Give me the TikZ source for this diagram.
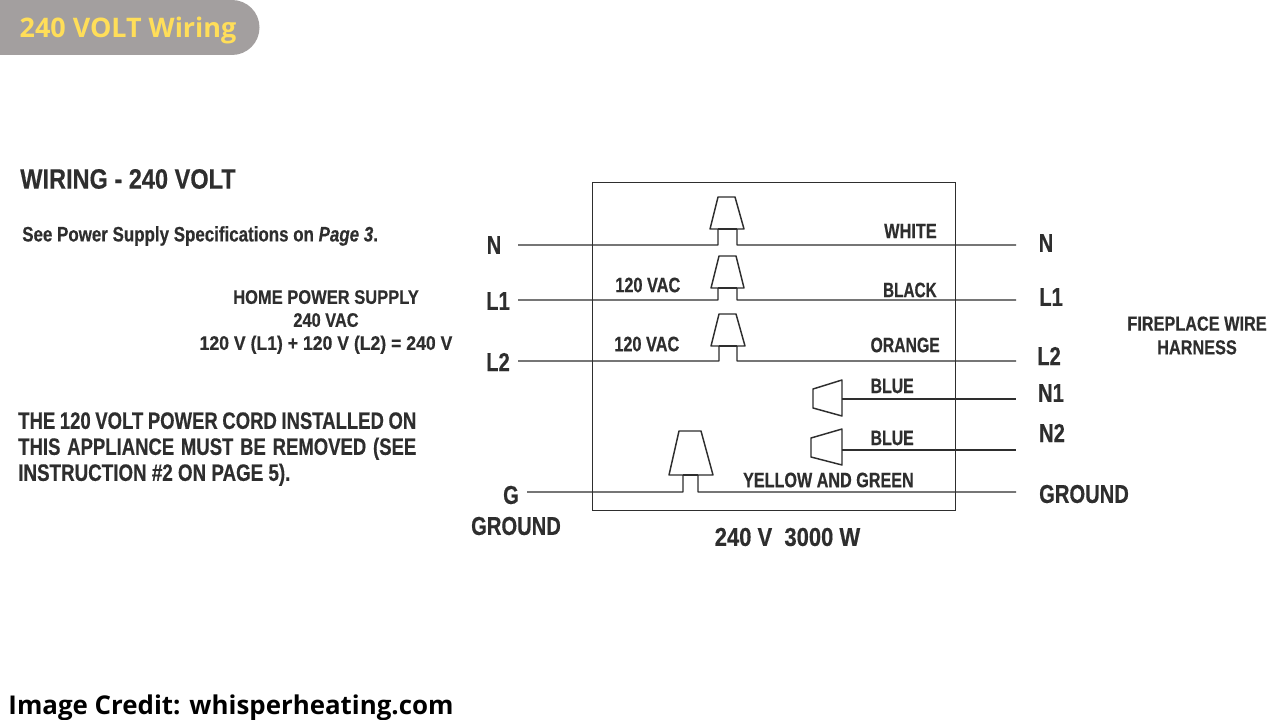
\documentclass[tikz,border=0pt]{standalone}
\usepackage{fontspec}
\setmainfont{Liberation Sans}
\newfontfamily\narrowfont[FakeStretch=0.78,FakeBold=0.4]{Liberation Sans Bold}
\newfontfamily\narrowital[FakeStretch=0.78,FakeBold=0.4]{Liberation Sans Bold Italic}
\newfontfamily\headfont{Open Sans Bold}
\newcommand{\xfit}[2]{\scalebox{#1}[1]{#2}}
\definecolor{ink}{HTML}{2E2E2E}
\definecolor{badge}{HTML}{A39F9F}
\definecolor{gold}{HTML}{FFDE59}
\tikzset{
  x=0.75pt,y=-0.75pt,
  wire/.style={draw=ink,line width=1.1pt,line join=round},
  lab/.style={text=ink,inner sep=0pt,font=\narrowfont\fontsize{15.7}{17}\selectfont,anchor=center,align=center},
  big/.style={lab,font=\narrowfont\fontsize{19.4}{20}\selectfont},
}
\begin{document}
\begin{tikzpicture}
\useasboundingbox (0,0) rectangle (1280,720);
\fill[white] (0,0) rectangle (1280,720);
% badge
\fill[badge] (0,0) -- (232,0) arc[start angle=90,end angle=-90,radius=27.5*0.75pt] -- (0,55) -- cycle;
\node[inner sep=0pt,text=gold,font=\headfont\fontsize{20.2}{22}\selectfont] (title) at (128,31) {240 VOLT Wiring};
\node[inner sep=0pt,text=black,font=\headfont\fontsize{19.4}{22}\selectfont] (credit) at (231,708) {Image Credit: whisperheating.com};
% left text
\node[big,anchor=west,font=\narrowfont\fontsize{21}{22}\selectfont] (head) at (20,179) {\xfit{1.078}{WIRING - 240 VOLT}};
\node[lab,anchor=west] (see) at (22,236) {\xfit{1.037}{See Power Supply Specifications on {\narrowital Page 3}.}};
\node[lab,font=\narrowfont\fontsize{14.7}{17.25}\selectfont] (home) at (326,322) {\xfit{1.08}{HOME POWER SUPPLY}\\\xfit{1.07}{240 VAC}\\\xfit{1.153}{120 V (L1) + 120 V (L2) = 240 V}};
\node[lab,anchor=north west,align=left,font=\narrowfont\fontsize{17.8}{19.5}\selectfont] (warn) at (18,412) {\makebox[298.5pt][s]{THE 120 VOLT POWER CORD INSTALLED ON}\\\makebox[298.5pt][s]{THIS APPLIANCE MUST BE REMOVED (SEE}\\\xfit{1.015}{INSTRUCTION \#2 ON PAGE 5).}};
\node[lab,font=\narrowfont\fontsize{15.2}{17.8}\selectfont] (harness) at (1197,335.5) {\xfit{1.03}{FIREPLACE WIRE}\\\xfit{1.03}{HARNESS}};
% terminal labels
\node[big] (nL) at (494,245) {N};
\node[big] (l1L) at (498,301) {L1};
\node[big] (l2L) at (498,362) {L2};
\node[big] (gL) at (511,495) {G};
\node[big] (gndL) at (516,526) {GROUND};
\node[big] (nR) at (1046,243) {N};
\node[big] (l1R) at (1051,297) {L1};
\node[big] (l2R) at (1049,356) {L2};
\node[big] (n1R) at (1051,393) {N1};
\node[big] (n2R) at (1052,433) {N2};
\node[big] (gndR) at (1084,494) {GROUND};
% box
\node[draw=ink,line width=1.1pt,inner sep=0pt,minimum width=272.25pt,minimum height=246pt,anchor=north west] (box) at (592,182) {};
\node[big] (rating) at (787.5,537) {\xfit{1.09}{240 V\ \ 3000 W}};
% wire ends
\coordinate (nA) at (518,245);\coordinate (nB) at (1016,245);
\coordinate (lA) at (518,300);\coordinate (lB) at (1016,300);
\coordinate (mA) at (518,361);\coordinate (mB) at (1016,361);
\coordinate (gA) at (527,492);\coordinate (gB) at (1016,492);
\coordinate (bA) at (842,399);\coordinate (bB) at (1016,399);
\coordinate (cA) at (842,450);\coordinate (cB) at (1016,450);
% top wire nuts with stems
\draw[wire] (nA) -- (718,245) -- (718,229) -- (710,229) -- (718,197) -- (735,197) -- (744,229) -- (737,229) -- (737,245) -- (nB);
\draw[wire] (718,229) -- (737,229);
\draw[wire] (lA) -- (718,300) -- (718,288) -- (711,288) -- (719,256) -- (736,256) -- (744,288) -- (737,288) -- (737,300) -- (lB);
\draw[wire] (718,288) -- (737,288);
\draw[wire] (mA) -- (719,361) -- (719,346) -- (711,346) -- (719,314) -- (736,314) -- (745,346) -- (737,346) -- (737,361) -- (mB);
\draw[wire] (719,346) -- (737,346);
\draw[wire] (gA) -- (683,492) -- (683,475) -- (669,475) -- (679,431) -- (701,431) -- (713,475) -- (698,475) -- (698,492) -- (gB);
\draw[wire] (683,475) -- (698,475);
% sideways nuts
\draw[wire] (842,380) -- (813,389) -- (813,408) -- (842,416) -- cycle;
\draw[wire] (bA) -- (bB);
\draw[wire] (842,429) -- (811,438) -- (811,457) -- (842,465) -- cycle;
\draw[wire] (cA) -- (cB);
% wire labels
\node[lab,anchor=east] (white) at (937,231) {WHITE};
\node[lab,anchor=east] (black) at (937,290) {\xfit{0.94}{BLACK}};
\node[lab,anchor=east] (orange) at (940,345) {\xfit{0.965}{ORANGE}};
\node[lab,anchor=west] (vac1) at (615,285) {120 VAC};
\node[lab,anchor=west] (vac2) at (614,344) {120 VAC};
\node[lab,anchor=east] (blue1) at (914,386) {\xfit{0.97}{BLUE}};
\node[lab,anchor=east] (blue2) at (914,438) {\xfit{0.97}{BLUE}};
\node[lab,anchor=east] (yg) at (914,480) {\xfit{0.99}{YELLOW AND GREEN}};
\end{tikzpicture}
\end{document}
